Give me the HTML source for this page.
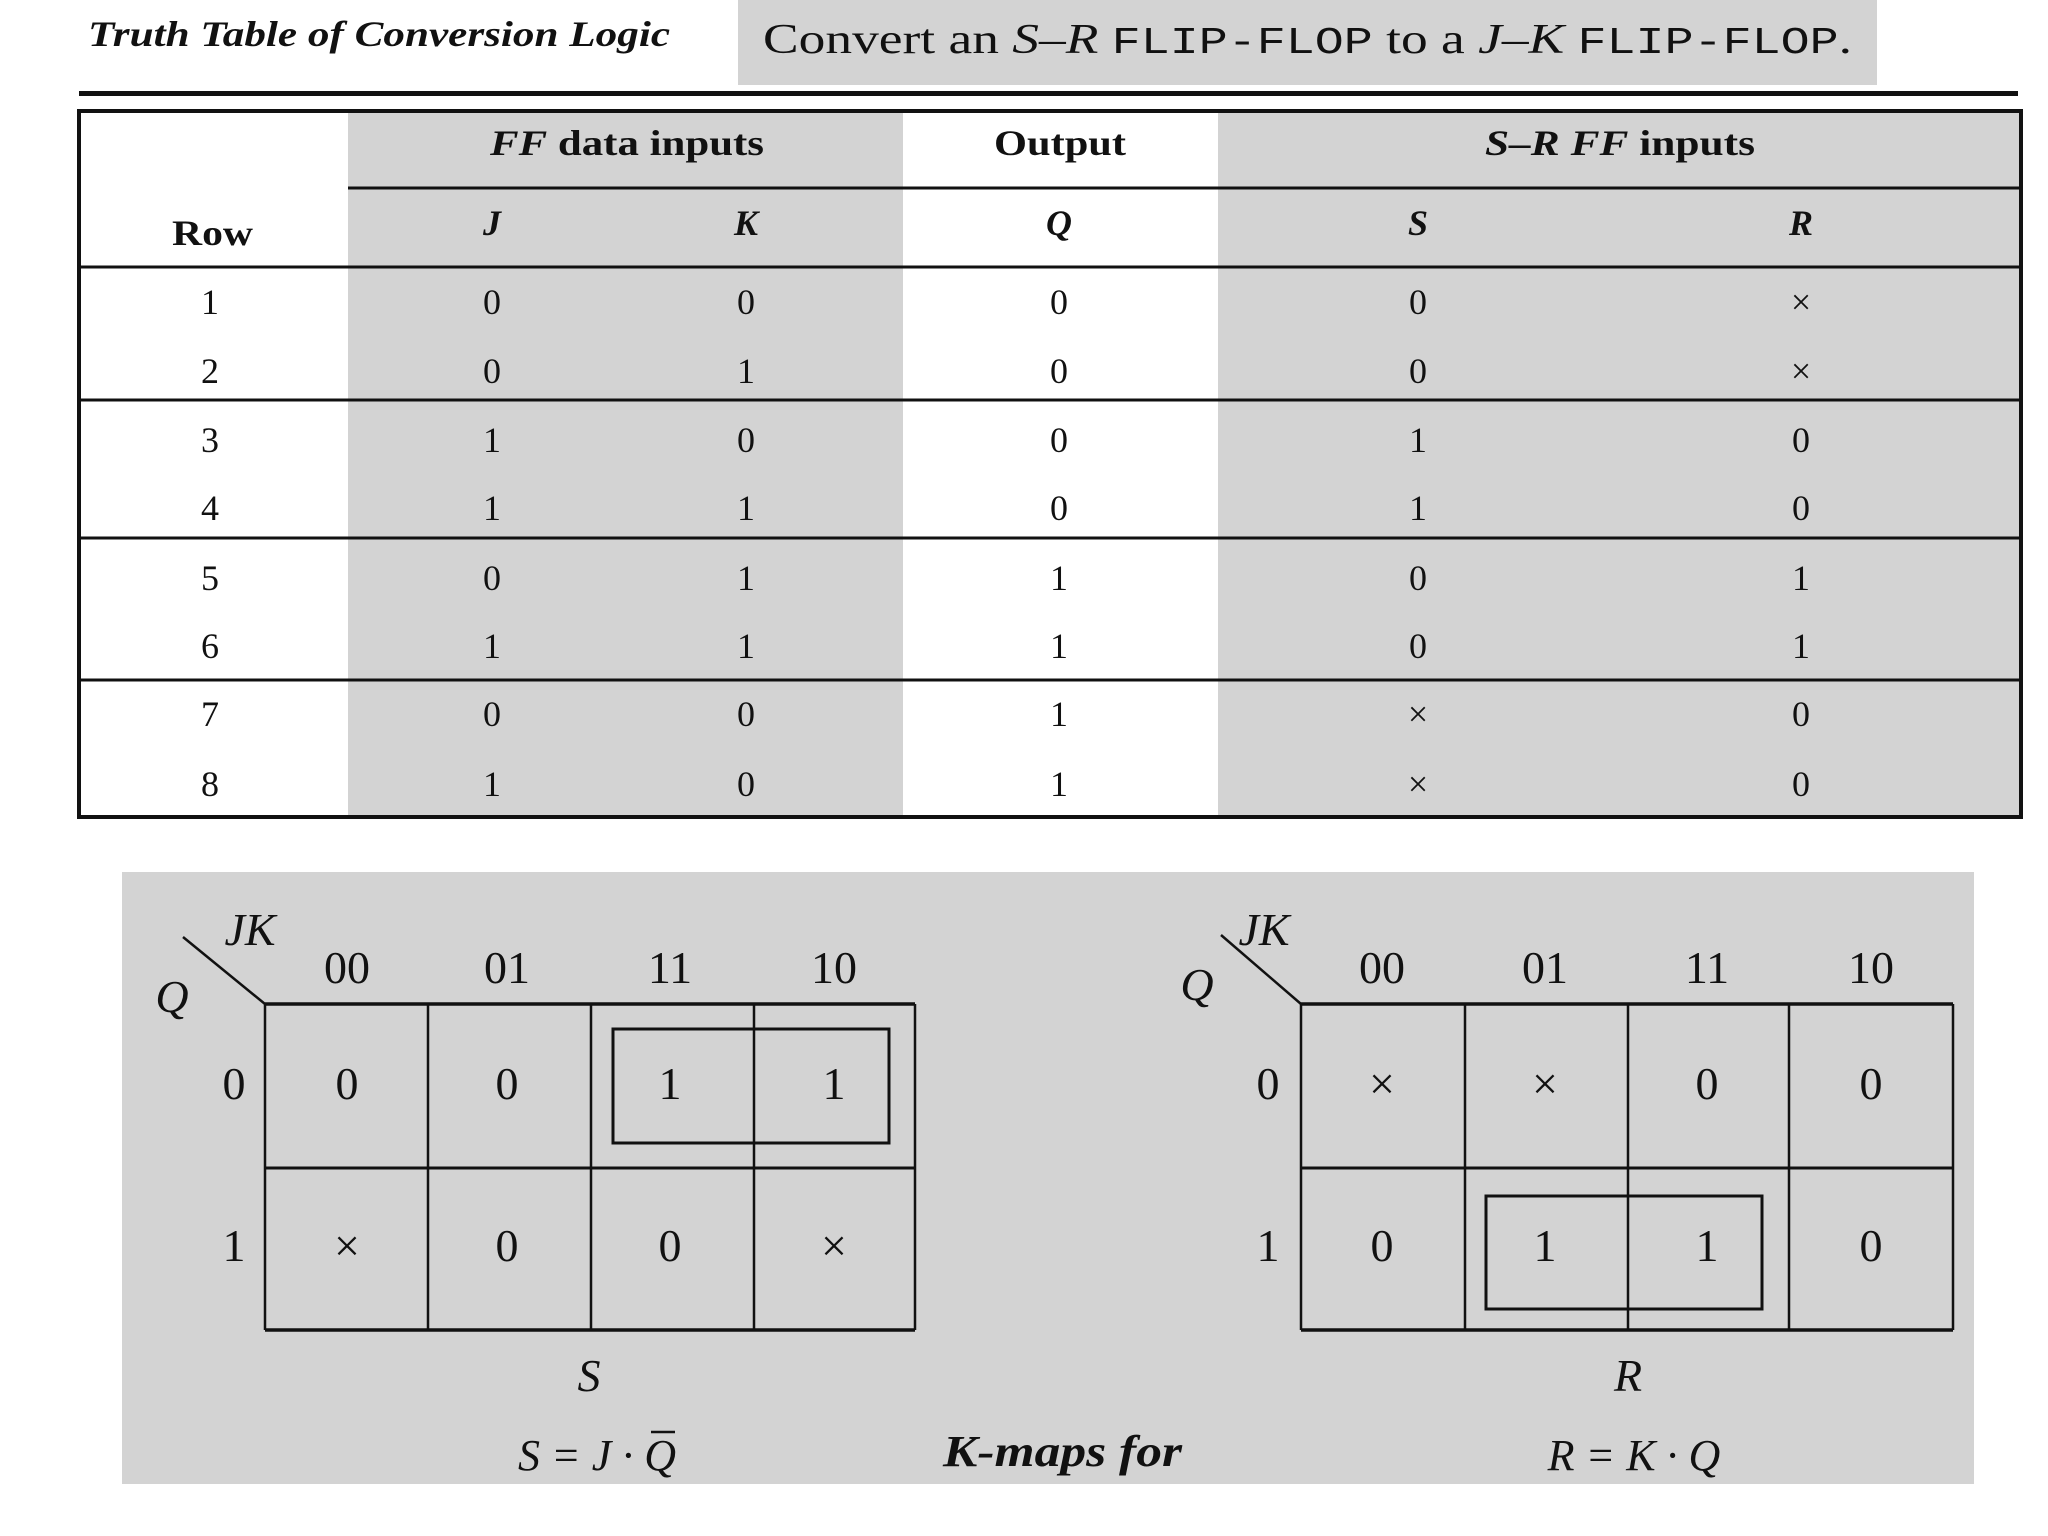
<!DOCTYPE html>
<html><head><meta charset="utf-8"><style>
html,body{margin:0;padding:0;background:#fff;}
svg{display:block;}
text{font-family:"Liberation Serif",serif;fill:#111;}
</style></head><body>
<svg width="2048" height="1536" viewBox="0 0 2048 1536" xmlns="http://www.w3.org/2000/svg">
<rect width="2048" height="1536" fill="#fff"/>
<!-- title -->
<text x="88" y="46" font-size="36" font-style="italic" font-weight="bold" textLength="582" lengthAdjust="spacingAndGlyphs">Truth Table of Conversion Logic</text>
<rect x="738" y="0" width="1139" height="85" fill="#d3d3d3"/>
<text x="763" y="53" font-size="42" textLength="1089" lengthAdjust="spacingAndGlyphs">Convert an <tspan font-style="italic">S–R</tspan> <tspan font-family="Liberation Mono, monospace" font-size="38">FLIP-FLOP</tspan> to a <tspan font-style="italic">J–K</tspan> <tspan font-family="Liberation Mono, monospace" font-size="38">FLIP-FLOP</tspan>.</text>
<rect x="79" y="91" width="1939" height="5" fill="#111"/>

<!-- table backgrounds -->
<rect x="348" y="111" width="555" height="706" fill="#d3d3d3"/>
<rect x="1218" y="111" width="805" height="706" fill="#d3d3d3"/>
<!-- lines -->
<g stroke="#111" fill="none">
<rect x="79" y="111" width="1942" height="706" stroke-width="4"/>
<line x1="348" y1="188" x2="2021" y2="188" stroke-width="3"/>
<line x1="79" y1="267" x2="2021" y2="267" stroke-width="3"/>
<line x1="79" y1="400" x2="2021" y2="400" stroke-width="3"/>
<line x1="79" y1="538" x2="2021" y2="538" stroke-width="3"/>
<line x1="79" y1="680" x2="2021" y2="680" stroke-width="3"/>
</g>
<g font-size="36" font-weight="bold">
<text x="490" y="155" textLength="274" lengthAdjust="spacingAndGlyphs"><tspan font-style="italic">FF</tspan> data inputs</text>
<text x="994" y="155" textLength="132" lengthAdjust="spacingAndGlyphs">Output</text>
<text x="1485" y="155" textLength="270" lengthAdjust="spacingAndGlyphs"><tspan font-style="italic">S–R FF</tspan> inputs</text>
<text x="172" y="245" textLength="81" lengthAdjust="spacingAndGlyphs">Row</text>
</g>
<g font-size="36" font-weight="bold" text-anchor="middle">
<text x="492" y="235" font-style="italic">J</text>
<text x="746" y="235" font-style="italic">K</text>
<text x="1059" y="235" font-style="italic">Q</text>
<text x="1418" y="235" font-style="italic">S</text>
<text x="1801" y="235" font-style="italic">R</text>
</g>
<g font-size="36" text-anchor="middle">
<text x="210" y="314">1</text><text x="492" y="314">0</text><text x="746" y="314">0</text><text x="1059" y="314">0</text><text x="1418" y="314">0</text><text x="1801" y="314">×</text>
<text x="210" y="383">2</text><text x="492" y="383">0</text><text x="746" y="383">1</text><text x="1059" y="383">0</text><text x="1418" y="383">0</text><text x="1801" y="383">×</text>
<text x="210" y="452">3</text><text x="492" y="452">1</text><text x="746" y="452">0</text><text x="1059" y="452">0</text><text x="1418" y="452">1</text><text x="1801" y="452">0</text>
<text x="210" y="520">4</text><text x="492" y="520">1</text><text x="746" y="520">1</text><text x="1059" y="520">0</text><text x="1418" y="520">1</text><text x="1801" y="520">0</text>
<text x="210" y="590">5</text><text x="492" y="590">0</text><text x="746" y="590">1</text><text x="1059" y="590">1</text><text x="1418" y="590">0</text><text x="1801" y="590">1</text>
<text x="210" y="658">6</text><text x="492" y="658">1</text><text x="746" y="658">1</text><text x="1059" y="658">1</text><text x="1418" y="658">0</text><text x="1801" y="658">1</text>
<text x="210" y="726">7</text><text x="492" y="726">0</text><text x="746" y="726">0</text><text x="1059" y="726">1</text><text x="1418" y="726">×</text><text x="1801" y="726">0</text>
<text x="210" y="796">8</text><text x="492" y="796">1</text><text x="746" y="796">0</text><text x="1059" y="796">1</text><text x="1418" y="796">×</text><text x="1801" y="796">0</text>
</g>

<!-- K-map panel -->
<rect x="122" y="872" width="1852" height="612" fill="#d3d3d3"/>
<g stroke="#111" fill="none" stroke-width="2.5">
<line x1="183" y1="937" x2="265" y2="1004"/>
<line x1="265" y1="1004" x2="915" y2="1004" stroke-width="3.5"/>
<line x1="265" y1="1330" x2="915" y2="1330" stroke-width="3.5"/>
<line x1="265" y1="1168" x2="915" y2="1168" stroke-width="3"/>
<line x1="265" y1="1004" x2="265" y2="1330"/>
<line x1="428" y1="1004" x2="428" y2="1330"/>
<line x1="591" y1="1004" x2="591" y2="1330"/>
<line x1="754" y1="1004" x2="754" y2="1330"/>
<line x1="915" y1="1004" x2="915" y2="1330"/>
<rect x="613" y="1029" width="276" height="114" stroke-width="3"/>
<line x1="1221" y1="935" x2="1301" y2="1004"/>
<line x1="1301" y1="1004" x2="1953" y2="1004" stroke-width="3.5"/>
<line x1="1301" y1="1330" x2="1953" y2="1330" stroke-width="3.5"/>
<line x1="1301" y1="1168" x2="1953" y2="1168" stroke-width="3"/>
<line x1="1301" y1="1004" x2="1301" y2="1330"/>
<line x1="1465" y1="1004" x2="1465" y2="1330"/>
<line x1="1628" y1="1004" x2="1628" y2="1330"/>
<line x1="1789" y1="1004" x2="1789" y2="1330"/>
<line x1="1953" y1="1004" x2="1953" y2="1330"/>
<rect x="1486" y="1196" width="276" height="113" stroke-width="3"/>
</g>
<g font-size="46" text-anchor="middle">
<text x="250" y="945" font-style="italic">JK</text>
<text x="172" y="1012" font-style="italic">Q</text>
<text x="347" y="983">00</text><text x="507" y="983">01</text><text x="670" y="983">11</text><text x="834" y="983">10</text>
<text x="234" y="1099">0</text><text x="234" y="1261">1</text>
<text x="347" y="1099">0</text><text x="507" y="1099">0</text><text x="670" y="1099">1</text><text x="834" y="1099">1</text>
<text x="347" y="1261">×</text><text x="507" y="1261">0</text><text x="670" y="1261">0</text><text x="834" y="1261">×</text>
<text x="589" y="1391" font-style="italic">S</text>

<text x="1264" y="945" font-style="italic">JK</text>
<text x="1197" y="1000" font-style="italic">Q</text>
<text x="1382" y="983">00</text><text x="1545" y="983">01</text><text x="1707" y="983">11</text><text x="1871" y="983">10</text>
<text x="1268" y="1099">0</text><text x="1268" y="1261">1</text>
<text x="1382" y="1099">×</text><text x="1545" y="1099">×</text><text x="1707" y="1099">0</text><text x="1871" y="1099">0</text>
<text x="1382" y="1261">0</text><text x="1545" y="1261">1</text><text x="1707" y="1261">1</text><text x="1871" y="1261">0</text>
<text x="1628" y="1391" font-style="italic">R</text>
</g>
<g font-size="44" text-anchor="middle">
<text x="597" y="1470" font-style="italic">S = J · Q</text>
<line x1="651" y1="1432" x2="675" y2="1432" stroke="#111" stroke-width="2.5"/>
<text x="1634" y="1470" font-style="italic">R = K · Q</text>
</g>
<text x="943" y="1466" font-size="44" font-style="italic" font-weight="bold" textLength="239" lengthAdjust="spacingAndGlyphs">K-maps for</text>
</svg>
</body></html>
